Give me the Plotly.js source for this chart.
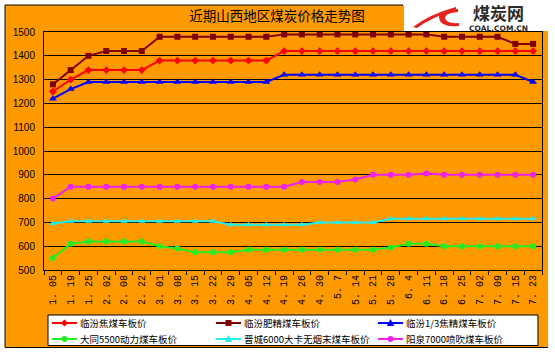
<!DOCTYPE html>
<html>
<head>
<meta charset="utf-8">
<script src="https://cdn.plot.ly/plotly-3.0.1.min.js"></script>
<style>html,body{margin:0;padding:0;background:#fff;}#chart{width:555px;height:353px;}</style>
</head>
<body>
<div id="chart"></div>
<script>
// ---- data ----
var categories = ["1. 05","1. 19","1. 25","2. 02","2. 08","2. 22","3. 01","3. 08","3. 15","3. 22","3. 29","4. 05","4. 12","4. 19","4. 26","4. 30","5. 7","5. 14","5. 21","5. 28","6. 4","6. 11","6. 18","6. 25","7. 02","7. 09","7. 15","7. 23"];
var seriesNames = ["临汾焦煤车板价","临汾肥精煤车板价","临汾1/3焦精煤车板价","大同5500动力煤车板价","晋城6000大卡无烟末煤车板价","阳泉7000喷吹煤车板价"];
var linfenJiao    = [1250,1300,1340,1340,1340,1340,1380,1380,1380,1380,1380,1380,1380,1420,1420,1420,1420,1420,1420,1420,1420,1420,1420,1420,1420,1420,1420,1420];
var linfenFeijing = [1280,1340,1400,1420,1420,1420,1480,1480,1480,1480,1480,1480,1480,1490,1490,1490,1490,1490,1490,1490,1490,1490,1480,1480,1480,1480,1450,1450];
var linfenSanJiao = [1220,1260,1290,1290,1290,1290,1290,1290,1290,1290,1290,1290,1290,1320,1320,1320,1320,1320,1320,1320,1320,1320,1320,1320,1320,1320,1320,1290];
var datong5500    = [550,610,620,620,620,620,600,590,575,575,575,585,585,585,585,585,585,585,585,595,610,610,600,600,600,600,600,600];
var jincheng6000  = [695,705,705,705,705,705,705,705,705,705,690,690,690,690,690,700,700,700,700,715,715,715,715,715,715,715,715,715];
var yangquan7000  = [800,850,850,850,850,850,850,850,850,850,850,850,850,850,870,870,870,880,900,900,900,905,900,900,900,900,900,900];
var yTicks = [500,600,700,800,900,1000,1100,1200,1300,1400,1500];
var titleText = "近期山西地区煤炭价格走势图";
var logoText = "煤炭网";
var logoSub = "COAL.COM.CN";

// ---- styles ----
var colors = ["#FF0000","#800000","#0000FF","#22EE22","#22EEEE","#EE22EE"];
var symbols = ["diamond","square","triangle-up","circle","triangle-up","circle"];
var sizes = [6,6,7,6,6,6];
var allSeries = [linfenJiao, linfenFeijing, linfenSanJiao, datong5500, jincheng6000, yangquan7000];

var traces = allSeries.map(function(vals, i){
  return {
    type: "scatter", mode: "lines+markers",
    x: categories, y: vals, name: seriesNames[i],
    line: {color: colors[i], width: 2},
    marker: {color: colors[i], symbol: symbols[i], size: sizes[i]},
    cliponaxis: false
  };
});

// pixel -> paper helpers (plot area 44..542 x, 32..270 y)
var L = 44, T = 32, W = 498, H = 238;
function X(px){ return (px - L) / W; }
function Y(py){ return (T + H - py) / H; }
function path(pts, open){
  return pts.map(function(p, k){
    if (p[0] === 'Q') return 'Q' + X(p[1]) + ',' + Y(p[2]) + ' ' + X(p[3]) + ',' + Y(p[4]);
    return (k === 0 ? 'M' : 'L') + X(p[0]) + ',' + Y(p[1]);
  }).join(' ') + (open ? '' : ' Z');
}

var shapes = [
  {type:"rect", xref:"paper", yref:"paper", x0:X(5), x1:X(548), y0:Y(5), y1:Y(347), fillcolor:"#FF9900", line:{width:0}, layer:"below"},
  {type:"rect", xref:"paper", yref:"paper", x0:X(404), x1:X(556), y0:Y(-1), y1:Y(31), fillcolor:"#FFFFFF", line:{width:0}, layer:"below"},
  {type:"line", xref:"paper", yref:"paper", x0:X(5), x1:X(5), y0:Y(5), y1:Y(347.5), line:{color:"#000", width:1}, layer:"below"},
  {type:"line", xref:"paper", yref:"paper", x0:X(5), x1:X(403), y0:Y(5), y1:Y(5), line:{color:"#000", width:1}, layer:"below"},
  {type:"line", xref:"paper", yref:"paper", x0:X(5), x1:X(548), y0:Y(347.5), y1:Y(347.5), line:{color:"#000", width:1}, layer:"below"},
  // logo swoosh
  {type:"path", xref:"paper", yref:"paper", layer:"below", fillcolor:"#E8231E", line:{width:0},
   path: path([[413,27],['Q',430,14,456,7],[456,10],['Q',432,17,417,28]])},
  {type:"path", xref:"paper", yref:"paper", layer:"below", fillcolor:"#E8231E", line:{width:0},
   path: path([[458,9],['Q',438,10,439,18],['Q',441,28,459,26],[459,23],['Q',446,24,445,18],['Q',445,13,458,12]])},
  // legend box
  {type:"rect", xref:"paper", yref:"paper", x0:X(48), x1:X(538), y0:Y(315), y1:Y(345.5), fillcolor:"#FFFFFF", line:{color:"#000", width:1}, layer:"above"}
];

var annotations = [
  {xref:"paper", yref:"paper", x:X(498), y:Y(12), text:"<b>"+logoText+"</b>", showarrow:false,
   font:{family:"Noto Sans CJK SC", size:17, color:"#2a2a2a"}, xanchor:"center", yanchor:"middle"},
  {xref:"paper", yref:"paper", x:X(498), y:Y(28), text:"<b>"+logoSub+"</b>", showarrow:false,
   font:{family:"DejaVu Sans", size:7.5, color:"#2a2a2a"}, xanchor:"center", yanchor:"middle"}
];

// custom legend (2 rows x 3 columns), built from the series names / styles
var colX = [52, 216, 378], rowY = [323, 339];
seriesNames.forEach(function(name, i){
  var cx0 = colX[i % 3], cy = rowY[Math.floor(i / 3)];
  var mx = cx0 + 12.5, c = colors[i];
  shapes.push({type:"line", xref:"paper", yref:"paper", x0:X(cx0), x1:X(cx0+25), y0:Y(cy), y1:Y(cy), line:{color:c, width:2}, layer:"above"});
  var s = symbols[i];
  if (s === "diamond") {
    shapes.push({type:"path", xref:"paper", yref:"paper", layer:"above", fillcolor:c, line:{width:0},
      path: path([[mx, cy-3.5],[mx+3.5, cy],[mx, cy+3.5],[mx-3.5, cy]])});
  } else if (s === "square") {
    shapes.push({type:"rect", xref:"paper", yref:"paper", layer:"above", fillcolor:c, line:{width:0},
      x0:X(mx-3), x1:X(mx+3), y0:Y(cy-3), y1:Y(cy+3)});
  } else if (s === "triangle-up") {
    shapes.push({type:"path", xref:"paper", yref:"paper", layer:"above", fillcolor:c, line:{width:0},
      path: path([[mx, cy-4],[mx+3.8, cy+3],[mx-3.8, cy+3]])});
  } else {
    shapes.push({type:"circle", xref:"paper", yref:"paper", layer:"above", fillcolor:c, line:{width:0},
      x0:X(mx-3), x1:X(mx+3), y0:Y(cy-3), y1:Y(cy+3)});
  }
  annotations.push({xref:"paper", yref:"paper", x:X(cx0+27), y:Y(cy), text:name, showarrow:false,
    xanchor:"left", yanchor:"middle", borderpad:0,
    font:{family:"Noto Sans CJK SC", size:9.5, color:"#000"}});
});

var layout = {
  width: 555, height: 353,
  margin: {l: L, r: 555 - L - W, t: T, b: 353 - T - H, pad: 0},
  paper_bgcolor: "#FFFFFF",
  plot_bgcolor: "#FFFFFF",
  title: {text: titleText, x: 277/555, xref: "container", xanchor: "center", y: 1 - 16/353, yref: "container", yanchor: "middle",
          font: {family: "Noto Sans CJK SC", size: 13.5, color: "#000"}},
  xaxis: {type: "category", tickangle: -90, ticks: "outside", ticklen: 4, tickcolor: "#000",
          tickson: "boundaries", showgrid: false, showline: true, linecolor: "#000", linewidth: 1, mirror: true,
          tickfont: {family: "Liberation Mono", size: 10, color: "#000"}, range: [-0.5, categories.length - 0.5]},
  yaxis: {range: [500, 1500], tickvals: yTicks, ticks: "", showgrid: true, gridcolor: "#000", gridwidth: 1,
          showline: true, linecolor: "#000", linewidth: 1, mirror: true, zeroline: false, ticklabelstandoff: 6,
          tickfont: {family: "Liberation Sans", size: 10, color: "#000"}},
  showlegend: false,
  shapes: shapes,
  annotations: annotations,
  hovermode: false
};

Plotly.newPlot("chart", traces, layout, {staticPlot: true, displayModeBar: false});
</script>
</body>
</html>
